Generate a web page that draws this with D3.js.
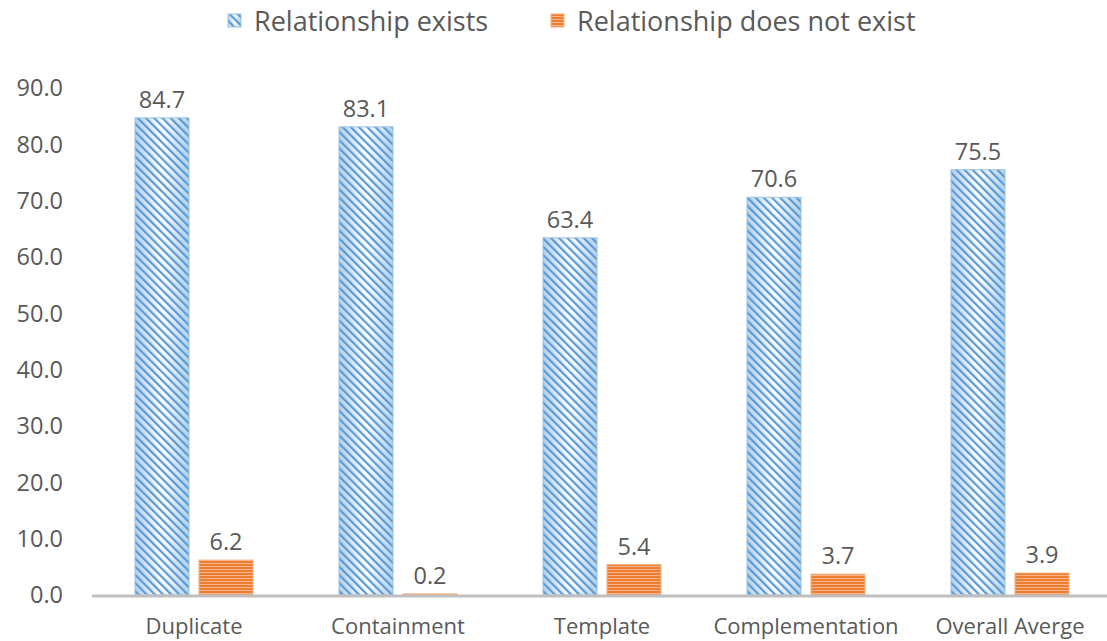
<!DOCTYPE html>
<html>
<head>
<meta charset="utf-8">
<script src="https://d3js.org/d3.v7.min.js"></script>
<style>
body { margin: 0; background: #fff; }
text { font-family: "Open Sans", "Noto Sans", sans-serif; fill: #595959; }
</style>
</head>
<body>
<script>
//grouped bar chart with patterned bars

(function(){

//chart data
var categories = ["Duplicate", "Containment", "Template", "Complementation", "Overall Averge"];
var seriesNames = ["Relationship exists", "Relationship does not exist"];
var existsValues = [84.7, 83.1, 63.4, 70.6, 75.5];
var notExistsValues = [6.2, 0.2, 5.4, 3.7, 3.9];
var yTicks = [0, 10, 20, 30, 40, 50, 60, 70, 80, 90];

window.onload = setChart();

function setChart(){
    var width = 1107,
        height = 641,
        left = 92,
        right = 1112,
        top = 88,
        bottom = 595;

    var svg = d3.select("body")
        .append("svg")
        .attr("width", width)
        .attr("height", height);

    var defs = svg.append("defs");

    //light gradient behind the blue stripes
    var grad = defs.append("linearGradient")
        .attr("id", "blueGrad")
        .attr("x1", "0").attr("x2", "1").attr("y1", "0").attr("y2", "0");
    grad.append("stop").attr("offset", "0").attr("stop-color", "#b4d1ec");
    grad.append("stop").attr("offset", "0.5").attr("stop-color", "#ffffff");
    grad.append("stop").attr("offset", "1").attr("stop-color", "#b4d1ec");

    //diagonal stripes
    var diag = defs.append("pattern")
        .attr("id", "diag")
        .attr("patternUnits", "userSpaceOnUse")
        .attr("width", 5.8)
        .attr("height", 5.8)
        .attr("patternTransform", "rotate(-45)");
    diag.append("rect")
        .attr("x", 0).attr("y", 0)
        .attr("width", 2.2).attr("height", 5.8)
        .attr("fill", "#5b9bd5");

    //horizontal stripes
    var horiz = defs.append("pattern")
        .attr("id", "horiz")
        .attr("patternUnits", "userSpaceOnUse")
        .attr("width", 6)
        .attr("height", 3);
    horiz.append("rect")
        .attr("width", 6).attr("height", 3)
        .attr("fill", "#ed7d31");
    horiz.append("rect")
        .attr("y", 2).attr("width", 6).attr("height", 1)
        .attr("fill", "#f6b58a");

    var x0 = d3.scaleBand()
        .domain(categories)
        .range([left, right]);

    var x1 = d3.scaleBand()
        .domain(seriesNames)
        .range([x0.bandwidth() / 2 - 59, x0.bandwidth() / 2 + 59])
        .paddingInner(0.156);

    var y = d3.scaleLinear()
        .domain([0, 90])
        .range([bottom, top]);

    //y tick labels
    svg.selectAll(".ytick")
        .data(yTicks)
        .enter()
        .append("text")
        .attr("class", "ytick")
        .attr("x", 63)
        .attr("y", function(d){ return y(d); })
        .attr("dy", "0.36em")
        .attr("text-anchor", "end")
        .style("font-size", "23.5px")
        .text(function(d){ return d.toFixed(1); });

    var rows = categories.map(function(c, i){
        return { cat: c, vals: [existsValues[i], notExistsValues[i]] };
    });

    var groups = svg.selectAll(".group")
        .data(rows)
        .enter()
        .append("g")
        .attr("class", "group")
        .attr("transform", function(d){ return "translate(" + x0(d.cat) + ",0)"; });

    groups.each(function(d){
        var g = d3.select(this);
        d.vals.forEach(function(v, j){
            var bx = x1(seriesNames[j]),
                bw = x1.bandwidth(),
                by = y(v),
                bh = bottom - y(v);
            if (j == 0){
                g.append("rect")
                    .attr("x", bx).attr("y", by)
                    .attr("width", bw).attr("height", bh)
                    .attr("fill", "url(#blueGrad)");
                g.append("rect")
                    .attr("x", bx).attr("y", by)
                    .attr("width", bw).attr("height", bh)
                    .attr("fill", "url(#diag)")
                    .attr("stroke", "#9dc3e6")
                    .attr("stroke-width", 1);
            } else {
                g.append("rect")
                    .attr("x", bx).attr("y", by)
                    .attr("width", bw).attr("height", bh)
                    .attr("fill", "url(#horiz)")
                    .attr("stroke", "#f4b183")
                    .attr("stroke-width", 1);
            };
            //data label
            g.append("text")
                .attr("x", bx + bw / 2)
                .attr("y", by - 10)
                .attr("text-anchor", "middle")
                .style("font-size", "23.5px")
                .text(v.toFixed(1));
        });
    });

    //x axis line
    svg.append("line")
        .attr("x1", left).attr("x2", 1107)
        .attr("y1", bottom + 1).attr("y2", bottom + 1)
        .attr("stroke", "#bfbfbf")
        .attr("stroke-width", 3);

    //category labels
    svg.selectAll(".xlabel")
        .data(categories)
        .enter()
        .append("text")
        .attr("class", "xlabel")
        .attr("x", function(d){ return x0(d) + x0.bandwidth() / 2; })
        .attr("y", 634)
        .attr("text-anchor", "middle")
        .style("font-size", "22px")
        .text(function(d){ return d; });

    //legend
    var legendItems = [
        { name: seriesNames[0], x: 228, fill: "url(#diag)", bg: "url(#blueGrad)", stroke: "#9dc3e6" },
        { name: seriesNames[1], x: 551, fill: "url(#horiz)", bg: "#ed7d31", stroke: "#f4b183" }
    ];
    var legend = svg.selectAll(".legend")
        .data(legendItems)
        .enter()
        .append("g")
        .attr("class", "legend")
        .attr("transform", function(d){ return "translate(" + d.x + ",14)"; });
    legend.append("rect")
        .attr("width", 13).attr("height", 13)
        .attr("fill", function(d){ return d.bg; });
    legend.append("rect")
        .attr("width", 13).attr("height", 13)
        .attr("fill", function(d){ return d.fill; })
        .attr("stroke", function(d){ return d.stroke; });
    legend.append("text")
        .attr("x", 26)
        .attr("y", 7)
        .attr("dy", "0.36em")
        .style("font-size", "27px")
        .text(function(d){ return d.name; });
};

})();
</script>
</body>
</html>
